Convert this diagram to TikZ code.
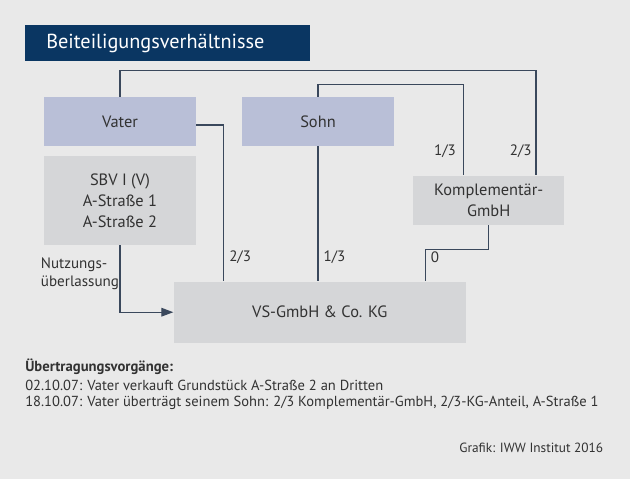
\documentclass[tikz,border=0pt]{standalone}
\usepackage{fontspec}
\setmainfont{PT Sans}
\usetikzlibrary{arrows.meta,positioning,calc}
\definecolor{bgc}{RGB}{233,233,233}
\definecolor{navy}{RGB}{10,54,98}
\definecolor{lav}{RGB}{185,191,215}
\definecolor{lgray}{RGB}{213,214,216}
\definecolor{txt}{RGB}{50,50,50}
\definecolor{wire}{RGB}{58,72,92}
\tikzset{
  boxa/.style={fill=lav, draw=none, inner sep=0pt, text=txt, font=\fontsize{12.3}{14}\selectfont},
  boxb/.style={fill=lgray, draw=none, inner sep=0pt, text=txt, font=\fontsize{12.3}{15.75}\selectfont, align=center},
  wirestyle/.style={draw=wire, line width=0.9pt},
  lbl/.style={text=txt, font=\fontsize{11.3}{13}\selectfont, inner sep=0pt},
  body/.style={text=txt, font=\fontsize{10.9}{13}\selectfont, inner sep=0pt, anchor=west}
}
\begin{document}
\begin{tikzpicture}[x=0.75pt,y=-0.75pt]
\fill[bgc] (0,0) rectangle (630,479);
\useasboundingbox (0,0) rectangle (630,479);
% title
\node[fill=navy, minimum width=213.75pt, minimum height=27pt, inner sep=0pt] (title) at (167.5,43) {};
\node[text=white, font=\fontsize{15.2}{17}\selectfont, anchor=west, inner sep=0pt] (titletxt) at (46,43) {Beiteiligungsverhältnisse};
% boxes
\node[boxa, minimum width=114pt, minimum height=36.75pt] (vater) at (120,121.5) {Vater};
\node[boxa, minimum width=114pt, minimum height=36.75pt] (sohn) at (318,121.5) {Sohn};
\node[boxb, minimum width=114pt, minimum height=67pt] (sbv) at (120,200.3) {SBV I (V)\\A-Straße 1\\A-Straße 2};
\node[boxb, minimum width=113.6pt, minimum height=37pt] (komp) at (488.75,200.3) {Komplementär-\\GmbH};
\node[boxb, minimum width=219.3pt, minimum height=45.75pt] (vs) at (319.8,312.2) {VS-GmbH \& Co. KG};
% anchor coordinates
\coordinate (k2) at ([xshift=-21.6pt]komp.north east);
\coordinate (k1) at ([xshift=38pt]komp.north west);
\coordinate (vv) at ([xshift=37.8pt]vs.north west);
\coordinate (v0) at ([xshift=-30.5pt]vs.north east);
% connectors
\draw[wirestyle] (vater.north) -- ++(0,-26) -| (k2);
\draw[wirestyle] (sohn.north) -- ++(0,-12.4) -| (k1);
\draw[wirestyle] ([yshift=-2.6pt]vater.east) -| (vv);
\draw[wirestyle] (sohn.south) -- (sohn.south |- vs.north);
\draw[wirestyle] (komp.south) -- ++(0,24.3) -| (v0);
\draw[wirestyle, -{Triangle[length=9pt,width=6.5pt]}] (sbv.south) |- (vs.west);
% labels
\node[lbl] (l1) at (445,151) {1/3};
\node[lbl] (l2) at (520.7,151) {2/3};
\node[lbl, anchor=west] (l3) at (229,256.7) {2/3};
\node[lbl, anchor=west] (l4) at (323.4,256.7) {1/3};
\node[lbl, anchor=west] (l5) at (430.7,257.5) {0};
\node[lbl, anchor=west, align=left, font=\fontsize{11.3}{13.5}\selectfont] (nutz) at (40.7,274) {Nutzungs-\\überlassung};
% bottom text
\node[body, font=\fontsize{11}{13}\bfseries\selectfont] (t0) at (25,366.7) {Übertragungsvorgänge:};
\node[body] (t1) at (25,385) {02.10.07: Vater verkauft Grundstück A-Straße 2 an Dritten};
\node[body] (t2) at (25,402.7) {18.10.07: Vater überträgt seinem Sohn: 2/3 Komplementär-GmbH, 2/3-KG-Anteil, A-Straße 1};
\node[body, anchor=east, font=\fontsize{10}{12}\selectfont] (src) at (603.5,448.3) {Grafik: IWW Institut 2016};
\end{tikzpicture}
\end{document}
